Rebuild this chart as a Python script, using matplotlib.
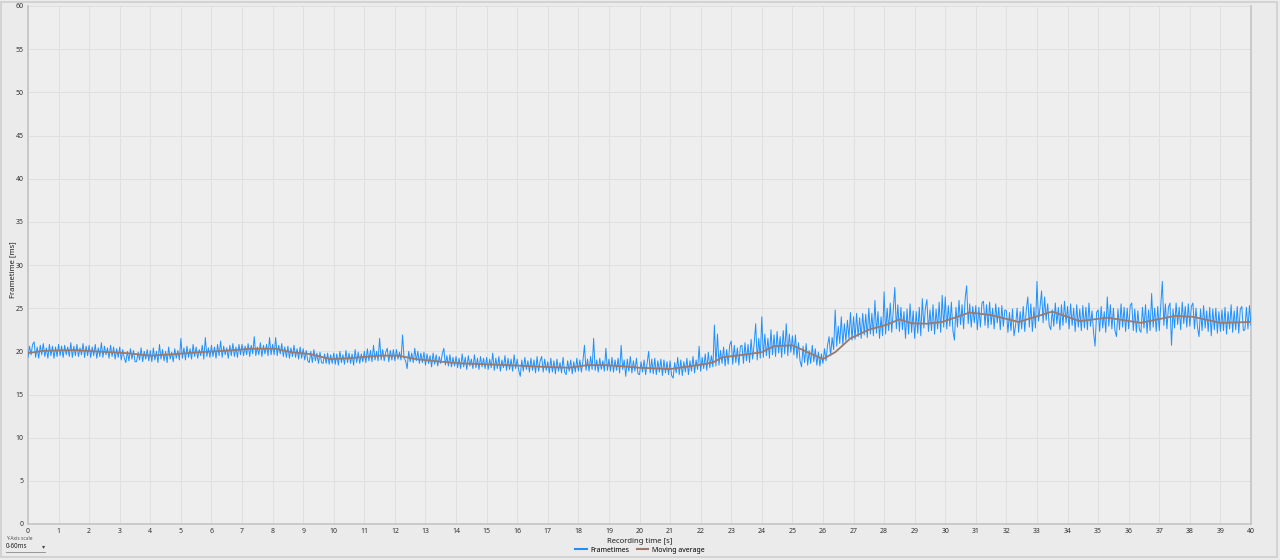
import numpy as np
import matplotlib
matplotlib.use('Agg')
import matplotlib.pyplot as plt
from matplotlib.lines import Line2D
from matplotlib.patches import Rectangle

plt.rcParams['font.family'] = ['Noto Sans', 'DejaVu Sans']

# frametimes, one row per second (0.05 s steps)
frametimes = [
    19.3, 20.6, 19.6, 20.8, 21.1, 19.3, 20.5, 19.2, 20.7, 19.6, 20.9, 19.4, 20.4, 19.2, 20.8, 19.5, 20.6, 19.2, 20.5, 19.4,
    20.8, 19.5, 20.6, 19.3, 20.7, 19.6, 20.5, 19.4, 21.0, 19.3, 20.6, 19.5, 20.8, 19.4, 20.4, 19.6, 20.9, 19.3, 20.6, 19.5,
    20.7, 19.3, 20.5, 19.5, 20.8, 19.2, 20.4, 19.4, 21.0, 19.3, 20.6, 19.6, 20.4, 19.2, 20.7, 19.4, 20.5, 19.1, 20.3, 19.3,
    20.5, 19.0, 20.2, 19.2, 18.7, 20.0, 18.9, 20.3, 19.1, 20.1, 18.8, 18.8, 19.9, 19.0, 20.4, 18.8, 20.0, 19.1, 20.2, 18.9,
    20.1, 18.8, 20.4, 19.0, 20.0, 18.7, 20.8, 19.1, 20.2, 18.9, 20.0, 18.7, 20.5, 19.1, 19.9, 18.8, 20.3, 19.2, 20.1, 19.0,
    21.5, 19.2, 20.4, 19.0, 20.6, 19.3, 20.3, 19.1, 20.8, 19.4, 20.5, 19.2, 20.2, 19.5, 20.7, 19.1, 21.6, 19.4, 20.4, 19.3,
    20.7, 19.4, 20.5, 19.2, 20.8, 19.5, 21.2, 19.3, 20.6, 19.6, 20.4, 19.2, 20.7, 19.5, 20.9, 19.4, 20.5, 19.3, 20.8, 19.6,
    20.8, 19.5, 20.6, 19.6, 20.9, 19.4, 20.7, 19.7, 21.7, 19.5, 20.5, 19.6, 21.0, 19.4, 20.7, 19.7, 20.8, 19.5, 21.6, 19.6,
    20.8, 19.6, 21.6, 19.5, 20.7, 19.7, 20.9, 19.4, 20.5, 19.3, 20.6, 19.2, 20.4, 19.4, 20.7, 19.3, 20.3, 19.1, 20.5, 19.2,
    20.3, 19.0, 20.1, 18.9, 18.7, 20.0, 18.7, 20.2, 18.9, 19.8, 18.6, 19.9, 18.7, 18.6, 19.7, 18.6, 19.8, 18.5, 19.6, 18.6,
    19.8, 18.5, 19.7, 18.4, 20.0, 18.7, 19.6, 18.5, 20.1, 18.7, 19.8, 18.6, 19.7, 18.4, 20.2, 18.7, 19.9, 18.6, 19.7, 18.8,
    20.0, 18.7, 20.3, 18.9, 20.1, 18.8, 20.7, 19.0, 20.0, 18.9, 21.5, 19.0, 20.2, 18.9, 19.9, 20.35, 18.8, 20.1, 19.0, 20.2,
    18.9, 20.2, 19.1, 19.9, 19.0, 21.9, 19.2, 18.9, 18.0, 20.0, 18.8, 19.8, 18.7, 20.35, 18.9, 20.0, 18.6, 19.8, 18.7, 19.9,
    18.4, 19.7, 18.6, 19.5, 18.2, 19.8, 18.5, 19.6, 18.3, 19.4, 18.6, 19.7, 20.35, 18.4, 19.5, 18.3, 19.6, 18.2, 19.3, 18.3,
    19.4, 18.1, 19.2, 18.0, 19.7, 18.2, 19.3, 17.9, 19.5, 18.3, 19.1, 18.0, 19.6, 18.1, 19.2, 17.9, 19.4, 18.2, 19.2, 18.0,
    19.3, 17.9, 19.1, 18.1, 19.8, 17.8, 19.2, 18.0, 19.4, 17.7, 19.0, 18.1, 19.5, 17.8, 19.2, 17.9, 19.1, 17.7, 19.6, 18.0,
    19.1, 17.8, 17.1, 19.0, 17.7, 19.3, 17.9, 18.9, 17.6, 19.2, 17.8, 19.0, 17.5, 19.4, 17.7, 18.9, 19.4, 17.6, 19.1, 17.8,
    18.8, 17.5, 19.2, 17.6, 18.9, 17.4, 19.1, 17.7, 18.7, 17.5, 19.3, 17.6, 17.3, 18.9, 17.7, 19.0, 17.4, 18.8, 17.6, 19.2,
    17.7, 19.0, 17.6, 18.9, 20.7, 17.8, 19.1, 17.7, 19.4, 17.9, 21.5, 17.8, 19.0, 17.6, 19.2, 17.9, 18.9, 17.7, 20.35, 17.8,
    19.1, 17.7, 19.3, 17.6, 19.0, 17.8, 19.2, 17.5, 20.7, 17.9, 19.0, 17.1, 19.1, 17.7, 19.4, 17.5, 18.9, 17.7, 19.2, 17.4,
    17.3, 18.8, 17.6, 19.0, 17.3, 18.7, 20.0, 17.5, 19.1, 17.4, 19.2, 17.3, 18.9, 17.6, 19.1, 17.2, 19.0, 17.5, 18.8, 17.3,
    18.9, 17.2, 16.9, 18.7, 17.5, 19.3, 17.3, 19.0, 17.2, 18.8, 17.6, 19.2, 17.3, 18.9, 17.7, 19.4, 17.5, 19.0, 17.9, 20.6,
    17.7, 19.3, 18.0, 19.7, 17.8, 19.9, 18.1, 19.5, 18.2, 23.05, 18.3, 22.0, 18.4, 20.1, 18.6, 20.5, 18.3, 20.2, 18.5, 20.7,
    21.2, 18.5, 20.7, 18.7, 20.4, 18.4, 20.6, 20.7, 18.6, 21.0, 18.9, 20.8, 18.7, 21.4, 19.1, 20.9, 23.2, 19.0, 21.5, 19.2,
    24.0, 19.3, 22.0, 19.5, 21.5, 19.2, 22.5, 19.6, 21.9, 19.4, 22.3, 19.8, 21.7, 19.3, 22.4, 19.7, 23.2, 19.5, 22.0, 19.9,
    21.8, 19.6, 21.9, 19.2, 21.0, 18.9, 18.2, 20.6, 18.7, 20.9, 18.4, 20.1, 18.6, 20.7, 18.8, 20.3, 18.4, 19.9, 18.3, 19.7,
    18.6, 20.3, 18.9, 20.7, 21.7, 19.5, 21.6, 20.2, 24.8, 20.6, 22.9, 20.9, 24.0, 20.7, 23.2, 21.2, 23.6, 21.5, 24.5, 21.3,
    24.0, 21.4, 24.4, 21.7, 23.9, 21.5, 24.4, 21.9, 24.3, 21.6, 25.0, 22.0, 24.4, 21.8, 25.9, 22.1, 24.6, 21.5, 24.0, 21.8,
    26.9, 22.0, 25.0, 22.4, 25.6, 22.2, 24.8, 27.4, 22.6, 25.4, 22.3, 25.1, 22.5, 24.6, 21.5, 24.9, 22.0, 25.5, 22.2, 24.7,
    21.5, 24.6, 22.1, 25.1, 21.8, 26.1, 22.7, 25.0, 26.0, 22.3, 24.8, 22.4, 25.4, 22.0, 24.9, 22.6, 25.7, 22.2, 26.5, 22.8,
    26.3, 22.6, 25.3, 22.9, 25.7, 22.4, 21.3, 25.1, 22.8, 25.9, 23.1, 25.4, 22.6, 26.1, 27.6, 23.2, 25.5, 22.8, 25.2, 23.3,
    25.3, 22.5, 25.1, 22.8, 25.6, 25.8, 23.0, 25.4, 22.7, 25.7, 23.1, 25.0, 22.6, 25.5, 23.3, 25.1, 22.5, 25.3, 22.9, 24.8,
    24.7, 22.2, 24.5, 22.4, 24.9, 21.8, 23.0, 25.0, 22.2, 24.6, 22.6, 25.2, 22.3, 24.8, 26.3, 22.8, 25.5, 22.3, 25.1, 22.7,
    28.1, 23.5, 25.1, 27.0, 23.3, 26.3, 23.6, 25.5, 23.0, 22.5, 24.8, 22.9, 25.6, 23.2, 25.1, 22.5, 25.4, 23.0, 25.8, 23.3,
    25.2, 22.6, 25.5, 23.0, 25.0, 22.3, 25.4, 22.8, 24.9, 22.4, 25.3, 22.7, 25.1, 22.5, 25.6, 22.9, 24.7, 22.2, 20.6, 24.5,
    24.8, 22.3, 25.2, 22.7, 24.6, 22.2, 26.3, 22.9, 25.4, 22.6, 25.0, 22.4, 21.7, 24.9, 22.5, 25.5, 22.8, 25.1, 22.3, 25.0,
    22.6, 25.3, 25.6, 22.4, 24.9, 22.2, 24.7, 22.5, 22.2, 25.1, 22.7, 25.4, 22.1, 24.8, 22.4, 26.7, 22.8, 25.0, 22.3, 25.2,
    22.4, 25.4, 28.1, 23.0, 25.5, 22.6, 25.1, 25.6, 20.7, 24.9, 22.7, 25.6, 23.1, 25.1, 22.5, 25.7, 23.2, 25.2, 22.8, 25.5,
    22.9, 25.2, 25.6, 22.6, 25.0, 22.8, 21.7, 24.9, 22.4, 25.3, 22.7, 24.7, 22.3, 25.1, 21.8, 24.9, 22.5, 25.0, 22.1, 24.6,
    22.3, 24.8, 22.4, 25.1, 22.0, 24.6, 22.6, 25.4, 22.2, 24.7, 22.5, 25.2, 22.1, 24.9, 25.2, 22.4, 22.5, 25.1, 22.6, 25.3,
    23.0,
]
frame_step = 0.05

ma_time = [0, 0.5, 1.5, 2.4, 3.2, 4.0, 4.7, 5.6, 6.4, 7.3,
           8.1, 8.6, 9.2, 9.9, 10.5, 11.5, 12.1, 12.7, 13.5, 14.2,
           15.0, 16.0, 16.9, 17.7, 18.3, 18.9, 19.5, 20.0, 21.0, 21.9,
           22.4, 22.7, 23.4, 24.0, 24.4, 25.0, 25.5, 26.0, 26.4, 26.9,
           27.5, 28.1, 28.5, 28.9, 29.4, 29.9, 30.8, 31.5, 32.4, 33.5,
           34.4, 35.3, 36.4, 37.5, 38.1, 39.0, 40.0]
ma_vals = [19.8, 20.05, 20.15, 19.95, 19.8, 19.5, 19.65, 19.9, 20.05, 20.3,
           20.3, 19.9, 19.7, 19.1, 19.2, 19.5, 19.5, 19.1, 18.8, 18.6,
           18.5, 18.35, 18.2, 18.1, 18.4, 18.4, 18.25, 18.1, 17.95, 18.4,
           18.7, 19.3, 19.6, 19.9, 20.6, 20.7, 19.9, 19.1, 19.9, 21.5,
           22.5, 23.1, 23.7, 23.25, 23.2, 23.4, 24.5, 24.2, 23.4, 24.6,
           23.5, 23.9, 23.3, 24.1, 24.0, 23.3, 23.4]

x_ticks = list(range(0, 41))
y_ticks = list(range(0, 61, 5))

frame_time = np.arange(len(frametimes)) * frame_step

fig = plt.figure(figsize=(12.8, 5.6), dpi=100)
fig.set_facecolor('#ebebeb')
ax = fig.add_axes([28 / 1280, 36 / 560, 1223 / 1280, 518 / 560])
ax.set_facecolor('#eeeeee')

ax.plot(frame_time, frametimes, color='#1e90ff', lw=0.7, zorder=3)
ax.plot(ma_time, ma_vals, color='#9a7a6c', lw=1.3, zorder=4)

ax.set_xlim(0, 40)
ax.set_ylim(0, 60)
ax.set_xticks(x_ticks)
ax.set_yticks(y_ticks)
ax.grid(True, color='#e0e0e0', lw=0.7)
ax.set_axisbelow(True)
ax.tick_params(length=0, labelsize=5, colors='#333333', pad=3)
for side in ['left', 'bottom', 'right']:
    ax.spines[side].set_color('#c4c4c4')
    ax.spines[side].set_linewidth(1.2)
ax.spines['top'].set_visible(False)

ax.set_xlabel('Recording time [s]', fontsize=5.5, color='#222222', labelpad=2)
ax.set_ylabel('Frametime [ms]', fontsize=5.5, color='#222222')
ax.yaxis.set_label_coords(-12 / 1223, 0.49)

handles = [Line2D([], [], color='#1e90ff', lw=1.5),
           Line2D([], [], color='#9a7a6c', lw=1.5)]
fig.legend(handles, ['Frametimes', 'Moving average'], loc='center',
           bbox_to_anchor=(0.5, 10 / 560), ncol=2, frameon=False,
           fontsize=5, handlelength=1.6, columnspacing=1.2, handletextpad=0.5)

# y-axis scale selector under the chart
fig.text(6 / 1280, 1 - 538 / 560, 'Y-Axis scale', fontsize=3.5, color='#555555', va='center')
fig.text(6 / 1280, 1 - 547 / 560, '0-60ms', fontsize=4.5, color='#222222', va='center')
fig.text(42 / 1280, 1 - 547 / 560, '▾', fontsize=4.5, color='#444444', va='center')
fig.add_artist(Line2D([6 / 1280, 45 / 1280], [1 - 552 / 560, 1 - 552 / 560],
                     color='#888888', lw=0.6))

# widget frame
fig.add_artist(Rectangle((0.5 / 1280, 3 / 560), 1276 / 1280, 555 / 560,
                         fill=False, edgecolor='#cfcfcf', lw=1.2))

fig.savefig('out.png', dpi=100, facecolor=fig.get_facecolor())
